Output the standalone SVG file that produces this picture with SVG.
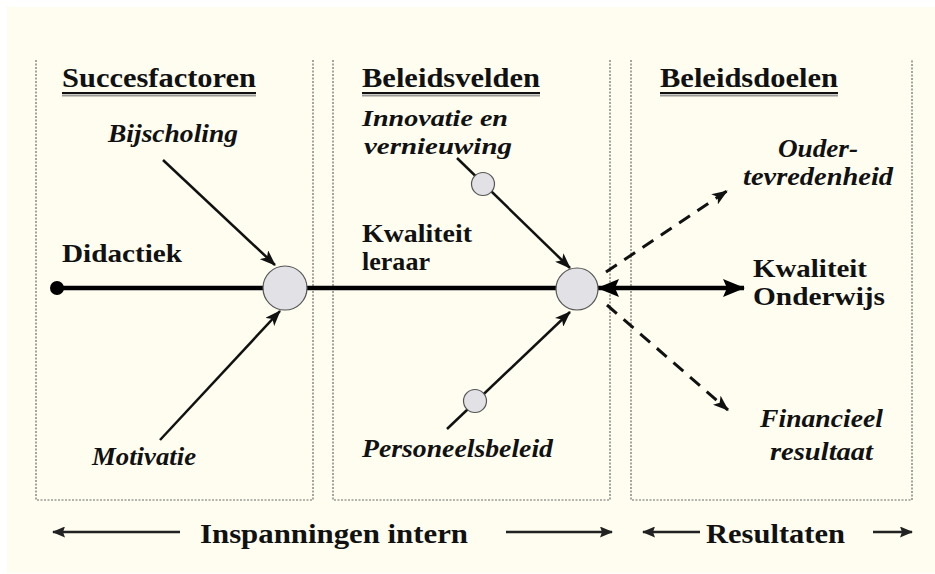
<svg xmlns="http://www.w3.org/2000/svg" width="935" height="574" viewBox="0 0 935 574">
<defs>
<style>
.hdr{font-family:"Liberation Serif","Times New Roman",serif;font-weight:bold;font-size:27px;fill:#111}
.lbl{font-family:"Liberation Serif","Times New Roman",serif;font-weight:bold;font-size:26px;fill:#111}
.ital{font-family:"Liberation Serif","Times New Roman",serif;font-weight:bold;font-style:italic;font-size:26px;fill:#111}
.sm{font-size:24px}
.panel{stroke:#6a6a6a;stroke-width:1.2;stroke-dasharray:2 1.5;fill:none}
.thin{stroke:#111;stroke-width:2.5;fill:none}
.thick{stroke:#000;stroke-width:4.5;fill:none}
.dash{stroke:#111;stroke-width:3;stroke-dasharray:13 9;fill:none}
.bot{stroke:#222;stroke-width:2.5;fill:none}
.node{fill:#e2e2e6;stroke:#555;stroke-width:1.2}
</style>
<marker id="ah" markerUnits="userSpaceOnUse" markerWidth="16" markerHeight="12" refX="15" refY="6" orient="auto-start-reverse"><path d="M0,0 L16,6 L0,12 L4,6 z" fill="#111"/></marker>
<marker id="ahT" markerUnits="userSpaceOnUse" markerWidth="22" markerHeight="18" refX="21" refY="9" orient="auto-start-reverse"><path d="M0,0 L22,9 L0,18 L4,9 z" fill="#000"/></marker>
<marker id="ahS" markerUnits="userSpaceOnUse" markerWidth="13" markerHeight="11" refX="12" refY="5.5" orient="auto-start-reverse"><path d="M0,0 L13,5.5 L0,11 L2,5.5 z" fill="#222"/></marker>
</defs>
<rect x="0" y="0" width="935" height="574" fill="#ffffff"/>
<rect x="7" y="7" width="928" height="566" fill="#fefdef"/>

<g id="panels">
<path class="panel" d="M36,60 V500 H313 V60"/>
<path class="panel" d="M333,60 V500 H610 V60"/>
<path class="panel" d="M631,60 V500 H912 V60"/>
</g>

<g id="headers">
<text class="hdr" x="62" y="87" textLength="194" lengthAdjust="spacingAndGlyphs">Succesfactoren</text>
<text class="hdr" x="362" y="87" textLength="178" lengthAdjust="spacingAndGlyphs">Beleidsvelden</text>
<text class="hdr" x="660" y="87" textLength="178" lengthAdjust="spacingAndGlyphs">Beleidsdoelen</text>
<g stroke-width="2">
<line x1="62" y1="95.5" x2="256" y2="95.5" stroke="#999"/>
<line x1="62" y1="93" x2="256" y2="93" stroke="#111"/>
<line x1="362" y1="95.5" x2="540" y2="95.5" stroke="#999"/>
<line x1="362" y1="93" x2="540" y2="93" stroke="#111"/>
<line x1="660" y1="95.5" x2="838" y2="95.5" stroke="#999"/>
<line x1="660" y1="93" x2="838" y2="93" stroke="#111"/>
</g>
</g>

<g id="connectors">
<line class="thick" x1="57" y1="288" x2="560" y2="288"/>
<line class="thick" x1="598" y1="288" x2="744" y2="288" marker-start="url(#ahT)" marker-end="url(#ahT)"/>
<line class="thin" x1="163" y1="160" x2="275" y2="265" marker-end="url(#ah)"/>
<line class="thin" x1="160" y1="440" x2="280" y2="311" marker-end="url(#ah)"/>
<line class="thin" x1="457" y1="158" x2="570" y2="268" marker-end="url(#ah)"/>
<line class="thin" x1="447" y1="429" x2="570" y2="312" marker-end="url(#ah)"/>
<line class="dash" x1="606" y1="272" x2="727" y2="191" marker-end="url(#ah)"/>
<line class="dash" x1="607" y1="305" x2="728" y2="410" marker-end="url(#ah)"/>
<line class="bot" x1="180" y1="532" x2="53" y2="532" marker-end="url(#ahS)"/>
<line class="bot" x1="506" y1="532" x2="612" y2="532" marker-end="url(#ahS)"/>
<line class="bot" x1="700" y1="532" x2="643" y2="532" marker-end="url(#ahS)"/>
<line class="bot" x1="873" y1="532" x2="912" y2="532" marker-end="url(#ahS)"/>
</g>

<g id="didactiek">
<circle cx="57" cy="288" r="7" fill="#000"/>
<text class="lbl" x="62" y="262" textLength="120" lengthAdjust="spacingAndGlyphs">Didactiek</text>
</g>
<g id="kwaliteit-leraar-node"><circle class="node" cx="285" cy="288" r="22"/></g>
<g id="kwaliteit-onderwijs-node"><circle class="node" cx="577" cy="289" r="21"/></g>
<g id="innovatie-node"><circle class="node" cx="483" cy="184" r="11.5"/></g>
<g id="personeel-node"><circle class="node" cx="475" cy="401" r="11.5"/></g>

<g id="bijscholing"><text class="ital" x="108" y="142" textLength="130" lengthAdjust="spacingAndGlyphs">Bijscholing</text></g>
<g id="motivatie"><text class="ital" x="92" y="465" textLength="104" lengthAdjust="spacingAndGlyphs">Motivatie</text></g>
<g id="innovatie">
<text class="ital sm" x="362" y="126" textLength="146" lengthAdjust="spacingAndGlyphs">Innovatie en</text>
<text class="ital sm" x="364" y="154" textLength="148" lengthAdjust="spacingAndGlyphs">vernieuwing</text>
</g>
<g id="kwaliteit-leraar">
<text class="lbl" x="362" y="242" textLength="110" lengthAdjust="spacingAndGlyphs">Kwaliteit</text>
<text class="lbl" x="362" y="270" textLength="68" lengthAdjust="spacingAndGlyphs">leraar</text>
</g>
<g id="personeelsbeleid"><text class="ital" x="362" y="457" textLength="191" lengthAdjust="spacingAndGlyphs">Personeelsbeleid</text></g>
<g id="oudertevredenheid">
<text class="ital" x="778" y="157" textLength="80" lengthAdjust="spacingAndGlyphs">Ouder-</text>
<text class="ital" x="743" y="185" textLength="150" lengthAdjust="spacingAndGlyphs">tevredenheid</text>
</g>
<g id="kwaliteit-onderwijs">
<text class="lbl" x="753" y="277" textLength="114" lengthAdjust="spacingAndGlyphs">Kwaliteit</text>
<text class="lbl" x="753" y="305" textLength="132" lengthAdjust="spacingAndGlyphs">Onderwijs</text>
</g>
<g id="financieel">
<text class="ital" x="760" y="427" textLength="123" lengthAdjust="spacingAndGlyphs">Financieel</text>
<text class="ital" x="770" y="460" textLength="103" lengthAdjust="spacingAndGlyphs">resultaat</text>
</g>

<g id="footer">
<text class="hdr" x="200" y="543" textLength="268" lengthAdjust="spacingAndGlyphs">Inspanningen intern</text>
<text class="hdr" x="706" y="543" textLength="139" lengthAdjust="spacingAndGlyphs">Resultaten</text>
</g>
</svg>
